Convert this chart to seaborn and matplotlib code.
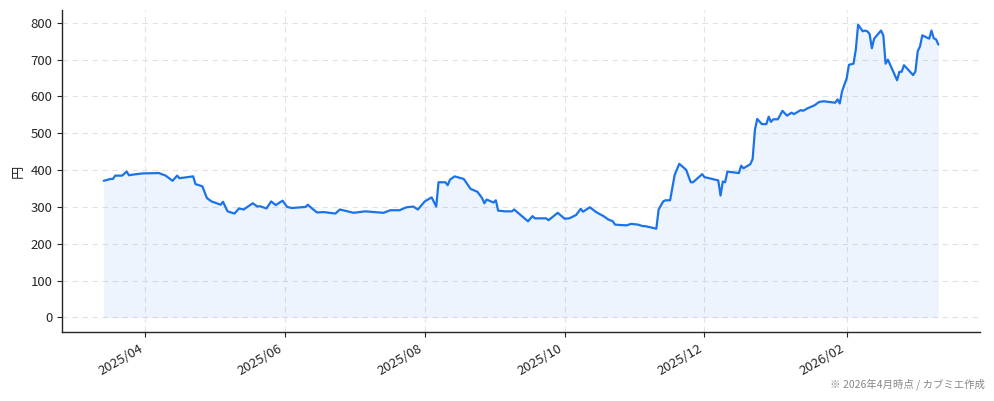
import matplotlib
matplotlib.use("Agg")
import matplotlib.pyplot as plt
import matplotlib.dates as mdates
import seaborn as sns
import pandas as pd

dates = [
    "2025-03-14", "2025-03-17", "2025-03-18", "2025-03-19", "2025-03-22", "2025-03-24", "2025-03-25", "2025-03-27", "2025-03-31",
    "2025-04-07", "2025-04-10", "2025-04-13", "2025-04-15", "2025-04-16", "2025-04-22", "2025-04-23", "2025-04-26", "2025-04-28", "2025-04-30",
    "2025-05-04", "2025-05-05", "2025-05-07", "2025-05-10", "2025-05-12", "2025-05-14", "2025-05-18", "2025-05-20", "2025-05-21", "2025-05-24",
    "2025-05-26", "2025-05-28", "2025-05-31",
    "2025-06-02", "2025-06-04", "2025-06-10", "2025-06-11", "2025-06-13", "2025-06-15", "2025-06-18", "2025-06-23", "2025-06-25",
    "2025-07-01", "2025-07-06", "2025-07-14", "2025-07-17", "2025-07-21", "2025-07-24", "2025-07-27", "2025-07-29",
    "2025-08-01", "2025-08-04", "2025-08-06", "2025-08-07", "2025-08-10", "2025-08-11", "2025-08-12", "2025-08-14", "2025-08-18",
    "2025-08-19", "2025-08-21", "2025-08-24", "2025-08-26", "2025-08-27", "2025-08-28", "2025-08-31",
    "2025-09-01", "2025-09-02", "2025-09-05", "2025-09-08", "2025-09-09", "2025-09-15", "2025-09-17", "2025-09-18", "2025-09-23",
    "2025-09-24", "2025-09-28",
    "2025-10-01", "2025-10-03", "2025-10-06", "2025-10-08", "2025-10-09", "2025-10-12", "2025-10-15", "2025-10-18", "2025-10-20",
    "2025-10-22", "2025-10-23", "2025-10-25", "2025-10-28", "2025-10-29", "2025-10-30",
    "2025-11-02", "2025-11-04", "2025-11-05", "2025-11-10", "2025-11-11", "2025-11-13", "2025-11-14", "2025-11-16", "2025-11-18",
    "2025-11-20", "2025-11-23", "2025-11-25", "2025-11-26", "2025-11-30",
    "2025-12-01", "2025-12-07", "2025-12-08", "2025-12-09", "2025-12-10", "2025-12-11", "2025-12-16", "2025-12-17", "2025-12-18",
    "2025-12-21", "2025-12-22", "2025-12-23", "2025-12-24", "2025-12-26", "2025-12-28", "2025-12-29", "2025-12-30", "2025-12-31",
    "2026-01-02", "2026-01-04", "2026-01-06", "2026-01-08", "2026-01-09", "2026-01-12", "2026-01-13", "2026-01-15", "2026-01-18",
    "2026-01-20", "2026-01-22", "2026-01-27", "2026-01-28", "2026-01-29", "2026-01-30",
    "2026-02-01", "2026-02-02", "2026-02-04", "2026-02-05", "2026-02-06", "2026-02-08", "2026-02-09", "2026-02-10", "2026-02-11",
    "2026-02-12", "2026-02-13", "2026-02-16", "2026-02-17", "2026-02-18", "2026-02-19", "2026-02-23", "2026-02-24", "2026-02-25",
    "2026-02-26",
    "2026-03-02", "2026-03-03", "2026-03-04", "2026-03-05", "2026-03-06", "2026-03-09", "2026-03-10", "2026-03-11", "2026-03-12",
    "2026-03-13",
]

prices = [
    371, 376, 376, 385, 385, 396, 386, 388, 391,
    392, 385, 371, 385, 378, 383, 362, 356, 324, 315,
    306, 314, 288, 282, 296, 293, 310, 301, 302, 296,
    315, 305, 317,
    300, 297, 300, 306, 295, 285, 286, 282, 293,
    284, 288, 284, 291, 291, 299, 301, 293,
    315, 326, 301, 367, 367, 359, 374, 383, 376,
    367, 349, 341, 324, 310, 320, 312,
    318, 290, 288, 288, 293, 261, 275, 269, 269,
    264, 284,
    268, 269, 278, 295, 287, 299, 285, 275, 266,
    261, 252, 251, 250, 252, 254,
    252, 248, 248, 241, 293, 315, 318, 318, 387,
    417, 401, 367, 367, 389,
    381, 372, 331, 369, 367, 396, 392, 412, 405,
    416, 430, 509, 539, 525, 525, 545, 531, 538,
    538, 561, 548, 556, 552, 563, 561, 568, 576,
    585, 587, 583, 592, 581, 614,
    649, 686, 689, 727, 795, 777, 779, 777, 770,
    731, 757, 779, 766, 689, 700, 644, 667, 667,
    685,
    658, 668, 723, 736, 766, 757, 779, 758, 755,
    741,
]

y_label = "円"
footnote = "※ 2026年4月時点 / カブミエ作成"

df = pd.DataFrame({"date": pd.to_datetime(dates), "price": prices})

sns.set_style("ticks")
plt.rcParams["font.family"] = ["Noto Sans CJK JP", "DejaVu Sans"]

fig = plt.figure(figsize=(9.94, 4.01), dpi=100)
ax = fig.add_axes([0.0624, 0.172, 0.9236, 0.803])

color = "#1a73e8"
sns.lineplot(data=df, x="date", y="price", ax=ax, color=color, linewidth=1.6)
ax.fill_between(df["date"], df["price"], 0, color=color, alpha=0.08, linewidth=0)

ax.set_yticks(range(0, 801, 100))
ax.xaxis.set_major_locator(mdates.MonthLocator(bymonth=[2, 4, 6, 8, 10, 12]))
ax.xaxis.set_major_formatter(mdates.DateFormatter("%Y/%m"))
plt.setp(ax.get_xticklabels(), rotation=30, ha="right", fontsize=9.5)
plt.setp(ax.get_yticklabels(), fontsize=9.5)

ax.grid(True, linestyle=(0, (5, 4)), color="#e2e2e6", linewidth=0.8)
ax.set_axisbelow(True)
sns.despine(ax=ax)
ax.spines["left"].set_linewidth(1.0)
ax.spines["bottom"].set_linewidth(1.0)

ax.set_xlabel("")
ax.set_ylabel(y_label, fontsize=9.5, labelpad=4)

fig.text(0.991, 0.042, footnote, ha="right", va="center", fontsize=7.5, color="#888888")

fig.savefig("out.png", dpi=100)
